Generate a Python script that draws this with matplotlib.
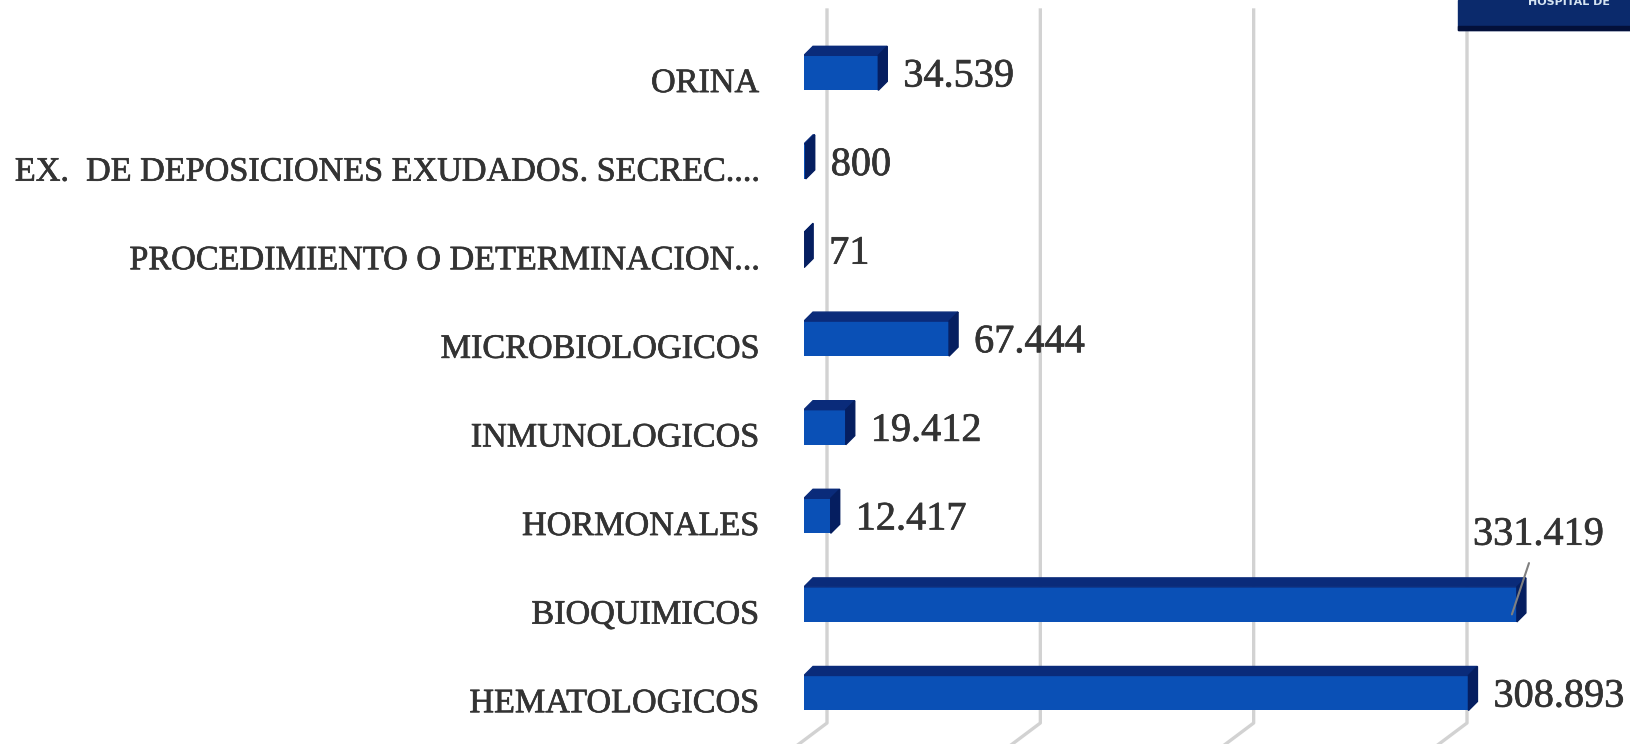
import matplotlib
matplotlib.use("Agg")
import matplotlib.pyplot as plt
import matplotlib.patheffects as pe
from matplotlib.patches import Polygon, Rectangle
from matplotlib.lines import Line2D
from matplotlib.transforms import ScaledTranslation

categories = ['HEMATOLOGICOS', 'BIOQUIMICOS', 'HORMONALES', 'INMUNOLOGICOS',
              'MICROBIOLOGICOS', 'PROCEDIMIENTO O DETERMINACION...',
              'EX.  DE DEPOSICIONES EXUDADOS. SECREC....', 'ORINA']
values = [308893, 331419, 12417, 19412, 67444, 71, 800, 34539]
value_labels = ['308.893', '331.419', '12.417', '19.412', '67.444', '71', '800', '34.539']
grid_ticks = [0, 100000, 200000, 300000]

W, H, DPI = 1630, 744, 100
front = '#0a50b6'
top_c = '#0a2b7a'
side_c = '#051e60'
txt_c = '#333333'
thick = [pe.withStroke(linewidth=0.5, foreground=txt_c)]

fig = plt.figure(figsize=(W / DPI, H / DPI), dpi=DPI)
ax = fig.add_axes([804 / W, 0, 826 / W, 1])
ax.set_xlim(0, 384000)
ax.set_ylim(-0.576, 7.822)
ax.axis('off')

px_x = 826 / 384000          # pixels per data unit (front face)
px_back = 640 / 300000       # back wall is a little narrower
px_y = 744 / (7.822 + 0.576)  # pixels per category step
bh = 35 / px_y
dx = 9 / px_x
dy = 9 / px_y

x_zero = ax.transData.transform((0, 0))[0]

# back-wall gridlines with the slanted floor part
for g in grid_ticks:
    xb = x_zero + 23 + g * px_back
    fig.add_artist(Line2D([xb, xb, xb - 47 * 1.333], [H - 10, H - 723, H - 770],
                          transform=None, color='#d2d2d2', lw=2.4, zorder=0))

for i, (v, lab) in enumerate(zip(values, value_labels)):
    ax.barh(i, v, height=bh, color=front, zorder=3)
    t, b = i + bh / 2, i - bh / 2
    ax.add_patch(Polygon([(0, t), (dx, t + dy), (v + dx, t + dy), (v, t)],
                         closed=True, color=top_c, zorder=3))
    ax.add_patch(Polygon([(v, t), (v + dx, t + dy), (v + dx, b + dy), (v, b)],
                         closed=True, color=side_c, zorder=3))
    if lab == '331.419':
        ax.annotate(lab, xy=(v - 5 / px_x, i - 10 / px_y), xytext=(19, 57),
                    textcoords='offset points',
                    ha='center', va='center', fontsize=29, color=txt_c,
                    family='Liberation Serif', path_effects=thick,
                    arrowprops=dict(arrowstyle='-', color='#808080', lw=1.5,
                                    shrinkA=5, shrinkB=0), zorder=5)
    else:
        ax.annotate(lab, xy=(v, i), xytext=(18, -3), textcoords='offset points',
                    ha='left', va='center', fontsize=29, color=txt_c,
                    family='Liberation Serif', path_effects=thick, zorder=5)

# category labels
lab_off = ScaledTranslation(0, -0.11, fig.dpi_scale_trans)
for i, c in enumerate(categories):
    ax.text(-45 / px_x, i, c, ha='right', va='center', fontsize=24.6,
            color=txt_c, family='Liberation Serif', path_effects=thick,
            transform=ax.transData + lab_off, clip_on=False)

# banner in the top right corner
fig.add_artist(Rectangle((1458, H - 30), 172, 30, transform=None,
                         color='#0b2a6c', zorder=6))
fig.add_artist(Rectangle((1458, H - 30), 172, 4, transform=None,
                         color='#03103a', zorder=6))
fig.text(1528 / W, 1.004, 'HOSPITAL DE', fontsize=8, fontweight='bold',
         color='#d5e4f2', ha='left', va='top', zorder=7)

fig.savefig('out.png', dpi=DPI)
